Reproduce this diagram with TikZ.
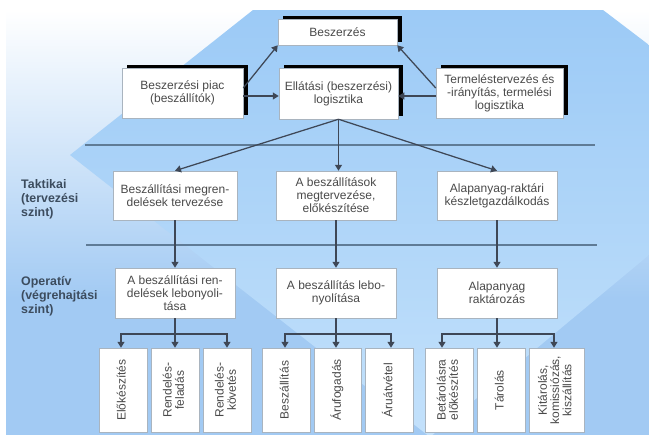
\documentclass[tikz,border=0pt]{standalone}
\usepackage{fontspec}
\usepackage{graphicx}
\setmainfont{Liberation Sans}
\usetikzlibrary{arrows.meta,shadows,calc}
\definecolor{bgblue}{HTML}{A2CAF3}
\definecolor{polytop}{HTML}{9CCAF6}
\definecolor{polybot}{HTML}{C3E1FB}
\definecolor{boxtext}{HTML}{4A4A4A}
\definecolor{lbl}{HTML}{3C4C5E}
\definecolor{arrc}{HTML}{3E4756}
\definecolor{hline}{HTML}{5F7B96}
\definecolor{boxline}{HTML}{A9B4BF}
\pgfdeclareverticalshading{bgshade}{100bp}{color(0bp)=(bgblue); color(41bp)=(bgblue); color(75bp)=(white); color(100bp)=(white)}
\pgfdeclareverticalshading{polyshade}{100bp}{color(0bp)=(polybot); color(25bp)=(polybot); color(75bp)=(polytop); color(100bp)=(polytop)}
\newcommand\bxfont{\fontsize{12}{12.9}\selectfont}
\newcommand\lblfont{\fontsize{12.4}{14}\selectfont\bfseries}
\newcommand\rot[1]{\rotatebox{90}{\renewcommand\arraystretch{0.9}\begin{tabular}{@{}c@{}}#1\end{tabular}}}
\tikzset{
  box/.style={draw=boxline, line width=0.5pt, fill=white, align=center, font=\bxfont, text=boxtext, inner sep=0pt},
  sbox/.style={box, general shadow={fill=black, shadow xshift=5pt, shadow yshift=3pt}},
  kid/.style={box, minimum height=84pt},
  lvl/.style={align=left, font=\lblfont, text=lbl, inner sep=0pt, anchor=north west},
  arr/.style={draw=arrc, line width=1.25pt, -{Triangle[length=6pt,width=7pt]}},
  conn/.style={draw=arrc, line width=1.25pt},
  sep/.style={draw=hline, line width=1.2pt}
}
\begin{document}
\begin{tikzpicture}[x=1pt,y=-1pt]
\useasboundingbox (0,0) rectangle (649,437);
% background
\begin{scope}
\clip (6,10) rectangle (649,434);
\shade[shading=bgshade] (6,10) rectangle (649,434);
\shade[shading=polyshade] (253,10) -- (603,10) -- (649,45) -- (649,255) -- (430,437) -- (70,155) -- cycle;
\end{scope}
% separators
\draw[sep] (85,145) -- (595,145);
\draw[sep] (86,245) -- (597,245);
% top row
\node[sbox, minimum width=119pt, minimum height=26pt] (besz) at (337.5,32) {Beszerzés};
\node[sbox, minimum width=121pt, minimum height=50pt] (piac) at (182.5,93) {Beszerzési piac\\(beszállítók)};
\node[sbox, minimum width=119pt, minimum height=51pt] (ell) at (338.5,93.5) {Ellátási (beszerzési)\\logisztika};
\node[sbox, minimum width=127pt, minimum height=50pt] (term) at (499.5,93) {Termeléstervezés és\\-irányítás, termelési\\logisztika};
% level labels
\node[lvl] (ltak) at (21,179) {Taktikai\\(tervezési\\szint)};
\node[lvl] (lop) at (21,276) {Operatív\\(végrehajtási\\szint)};
% tactical row
\node[box, minimum width=124pt, minimum height=49pt] (t1) at (175,195.5) {Beszállítási megren-\\delések tervezése};
\node[box, minimum width=120pt, minimum height=49pt] (t2) at (336,195.5) {A beszállítások\\megtervezése,\\előkészítése};
\node[box, minimum width=120pt, minimum height=49pt] (t3) at (497,195.5) {Alapanyag-raktári\\készletgazdálkodás};
% operative row
\node[box, minimum width=120pt, minimum height=50pt] (o1) at (175,293) {A beszállítási ren-\\delések lebonyoli-\\tása};
\node[box, minimum width=120pt, minimum height=50pt] (o2) at (336,293) {A beszállítás lebo-\\nyolítása};
\node[box, minimum width=120pt, minimum height=50pt] (o3) at (497,293) {Alapanyag\\raktározás};
% bottom row
\node[kid, minimum width=48pt] (k1) at (123,390) {\rot{Előkészítés}};
\node[kid, minimum width=48pt] (k2) at (175,390) {\rot{Rendelés-\\feladás}};
\node[kid, minimum width=48pt] (k3) at (227,390) {\rot{Rendelés-\\követés}};
\node[kid, minimum width=48pt] (k4) at (286,390) {\rot{Beszállítás}};
\node[kid, minimum width=47pt] (k5) at (337.5,390) {\rot{Árufogadás}};
\node[kid, minimum width=48pt] (k6) at (389,390) {\rot{Áruátvétel}};
\node[kid, minimum width=48pt] (k7) at (449,390) {\rot{Betárolásra\\előkészítés}};
\node[kid, minimum width=48pt] (k8) at (501,390) {\rot{Tárolás}};
\node[kid, minimum width=55pt] (k9) at (556.5,390) {\rot{Kitárolás,\\komissiózás,\\kiszállítás}};
% top connectors
\coordinate (pu) at ([yshift=5pt]piac.east);
\coordinate (pd) at ([yshift=-3pt]piac.east);
\coordinate (tu) at ([yshift=5pt]term.west);
\coordinate (td) at ([yshift=-3pt]term.west);
\draw[arr] (pu) -- (besz.south west);
\draw[arr] (pd) -- (pd -| ell.west);
\draw[arr] (tu) -- (besz.south east);
\draw[arr] (td) -- (td -| ell.east);
\draw[arr] (ell.south) -- (t1.north);
\draw[arr] (ell.south) -- (ell.south |- t2.north);
\draw[arr] (ell.south) -- (t3.north);
% tactical to operative
\draw[arr] (t1.south) -- (o1.north);
\draw[arr] (t2.south) -- (o2.north);
\draw[arr] (t3.south) -- (o3.north);
% operative to bottom
\coordinate (g1a) at (121,334); \coordinate (g1b) at (227,334);
\coordinate (g2a) at (285,334); \coordinate (g2b) at (391,334);
\coordinate (g3a) at (442,334); \coordinate (g3b) at (554,334);
\draw[conn] (g1a) -- (g1b);
\draw[conn] (g2a) -- (g2b);
\draw[conn] (g3a) -- (g3b);
\draw[arr] (o1.south) -- (o1.south |- k2.north);
\draw[arr] (o2.south) -- (o2.south |- k5.north);
\draw[arr] (o3.south) -- (o3.south |- k8.north);
\draw[arr] ([yshift=0.6pt]g1a) -- (g1a |- k1.north);
\draw[arr] ([yshift=0.6pt]g1b) -- (g1b |- k3.north);
\draw[arr] ([yshift=0.6pt]g2a) -- (g2a |- k4.north);
\draw[arr] ([yshift=0.6pt]g2b) -- (g2b |- k6.north);
\draw[arr] ([yshift=0.6pt]g3a) -- (g3a |- k7.north);
\draw[arr] ([yshift=0.6pt]g3b) -- (g3b |- k9.north);
\end{tikzpicture}
\end{document}
